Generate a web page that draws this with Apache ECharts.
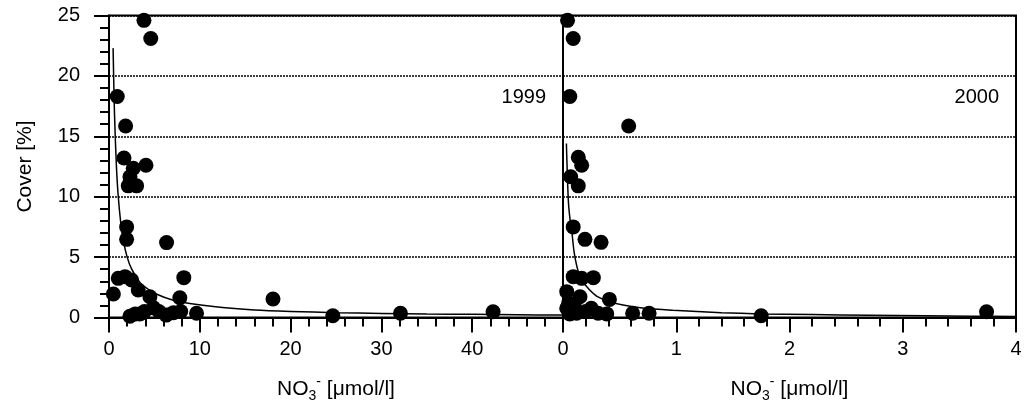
<!DOCTYPE html>
<html><head><meta charset="utf-8">
<script src="https://cdn.jsdelivr.net/npm/echarts@6/dist/echarts.min.js"></script>
<style>html,body{margin:0;padding:0;background:#fff}#c{width:1025px;height:419px}</style>
</head><body><div id="c"></div>
<script>
// 1999 panel: [NO3 µmol/l, cover %]
const points1999 = [
  [3.85,24.6],[4.6,23.1],[0.91,18.3],[1.83,15.85],[1.65,13.2],[4.07,12.6],[2.67,12.35],
  [2.31,11.65],[2.12,10.9],[3.04,10.9],[1.94,7.5],[1.94,6.47],[6.34,6.2],[8.24,3.3],
  [1.02,3.24],[1.76,3.38],[2.49,3.1],[3.22,2.28],[0.48,1.95],[4.5,1.72],[7.8,1.64],[18.06,1.53],
  [2.3,0.1],[2.9,0.3],[3.4,0.3],[3.9,0.5],[4.9,0.8],[5.5,0.5],[6.3,0.2],[7.1,0.4],[7.9,0.5],[9.64,0.35],
  [24.65,0.15],[32.1,0.35],[42.3,0.48]
];
const fit1999 = [
  [0.45,22.3],[0.6,17],[0.8,12.8],[1.0,10.2],[1.3,7.8],[1.6,6.3],[2.0,5.0],[2.5,4.0],[3.4,2.9],
  [4.2,2.4],[5.2,1.95],[7,1.45],[8.9,1.15],[12.5,0.82],[16,0.62],[20,0.5],[25,0.4],[30,0.34],
  [35,0.29],[40,0.26],[45,0.23],[50,0.2]
];
// 2000 panel
const points2000 = [
  [0.04,24.6],[0.09,23.1],[0.06,18.3],[0.58,15.85],[0.135,13.26],[0.165,12.6],[0.068,11.65],
  [0.135,10.9],[0.09,7.5],[0.194,6.47],[0.336,6.22],[0.09,3.38],[0.165,3.24],[0.268,3.3],
  [0.033,2.14],[0.15,1.72],[0.41,1.5],[0.05,1.2],[0.1,0.9],[0.033,0.76],[0.25,0.76],
  [0.12,0.35],[0.2,0.5],[0.06,0.3],[0.31,0.35],[0.386,0.3],[0.615,0.35],[0.76,0.35],
  [1.75,0.15],[3.74,0.48]
];
const fit2000 = [
  [0.03,14.4],[0.047,9.7],[0.06,8.3],[0.077,7.2],[0.1,5.3],[0.135,3.8],[0.18,2.9],[0.238,2.25],
  [0.3,1.75],[0.4,1.35],[0.53,1.03],[0.7,0.78],[0.97,0.6],[1.4,0.4],[1.74,0.3],[2.2,0.24],
  [2.7,0.18],[3.2,0.14],[3.6,0.11],[4.0,0.08]
];
const yearLabels = ['1999','2000'];
const xName = 'NO{sub|3}{sup|-} [μmol/l]';
const yName = 'Cover [%]';

const FONT = 'Liberation Sans, Arial, sans-serif';
const chart = echarts.init(document.getElementById('c'), null, {renderer:'canvas'});
const nameStyle = {
  fontFamily: FONT, fontSize: 21, color: '#000',
  rich: {
    sub: {fontFamily: FONT, fontSize: 14, color:'#000', padding:[14,0,0,0]},
    sup: {fontFamily: FONT, fontSize: 14, color:'#000', padding:[0,0,14,0]}
  }
};
function xAxis(gi, max, interval, showMax){
  return {
    type:'value', gridIndex:gi, min:0, max:max, interval:interval,
    axisLine:{show:true, onZero:false, lineStyle:{color:'#000', width:2}},
    axisTick:{show:true, length:15, lineStyle:{color:'#000', width:2}},
    minorTick:{show:true, splitNumber:5, length:9, lineStyle:{color:'#000', width:2}},
    splitLine:{show:false},
    axisLabel:{fontFamily:FONT, fontSize:20, color:'#000', margin:22, showMaxLabel:showMax},
    name: xName, nameLocation:'middle', nameGap:58, nameTextStyle: nameStyle
  };
}
function yAxis(gi, labels){
  return {
    type:'value', gridIndex:gi, min:0, max:25, interval:5,
    axisLine:{show:true, onZero:false, lineStyle:{color:'#000', width:2}},
    axisTick:{show:labels, length:15, lineStyle:{color:'#000', width:2}},
    minorTick:{show:labels, splitNumber:5, length:9, lineStyle:{color:'#000', width:2}},
    splitLine:{show:true, lineStyle:{color:'#000', width:1.5, type:[2,1]}},
    axisLabel:{show:labels, fontFamily:FONT, fontSize:20, color:'#000', margin:29},
    name: labels ? yName : '', nameLocation:'middle', nameGap:73,
    nameTextStyle:{fontFamily:FONT, fontSize:21, color:'#000'}
  };
}
chart.setOption({
  animation:false,
  backgroundColor:'#fff',
  grid:[
    {left:109, top:15.5, width:454, height:302, show:true, borderColor:'#000', borderWidth:2},
    {left:563, top:15.5, width:453, height:302, show:true, borderColor:'#000', borderWidth:2}
  ],
  xAxis:[xAxis(0,50,10,false), xAxis(1,4,1,true)],
  yAxis:[yAxis(0,true), yAxis(1,false)],
  graphic:[
    {type:'text', right: 1025-546, top: 87, style:{text:yearLabels[0], font:'20px '+FONT, fill:'#000', textAlign:'right'}},
    {type:'text', right: 1025-999, top: 87, style:{text:yearLabels[1], font:'20px '+FONT, fill:'#000', textAlign:'right'}}
  ],
  series:[
    {type:'line', xAxisIndex:0, yAxisIndex:0, data:fit1999, smooth:0.3, showSymbol:false, symbol:'none',
     lineStyle:{color:'#000', width:1.5}, z:3},
    {type:'scatter', xAxisIndex:0, yAxisIndex:0, data:points1999, symbolSize:15,
     itemStyle:{color:'#000', opacity:1}, z:4},
    {type:'line', xAxisIndex:1, yAxisIndex:1, data:fit2000, smooth:0.3, showSymbol:false, symbol:'none',
     lineStyle:{color:'#000', width:1.5}, z:3},
    {type:'scatter', xAxisIndex:1, yAxisIndex:1, data:points2000, symbolSize:15,
     itemStyle:{color:'#000', opacity:1}, z:4}
  ]
});
</script></body></html>
